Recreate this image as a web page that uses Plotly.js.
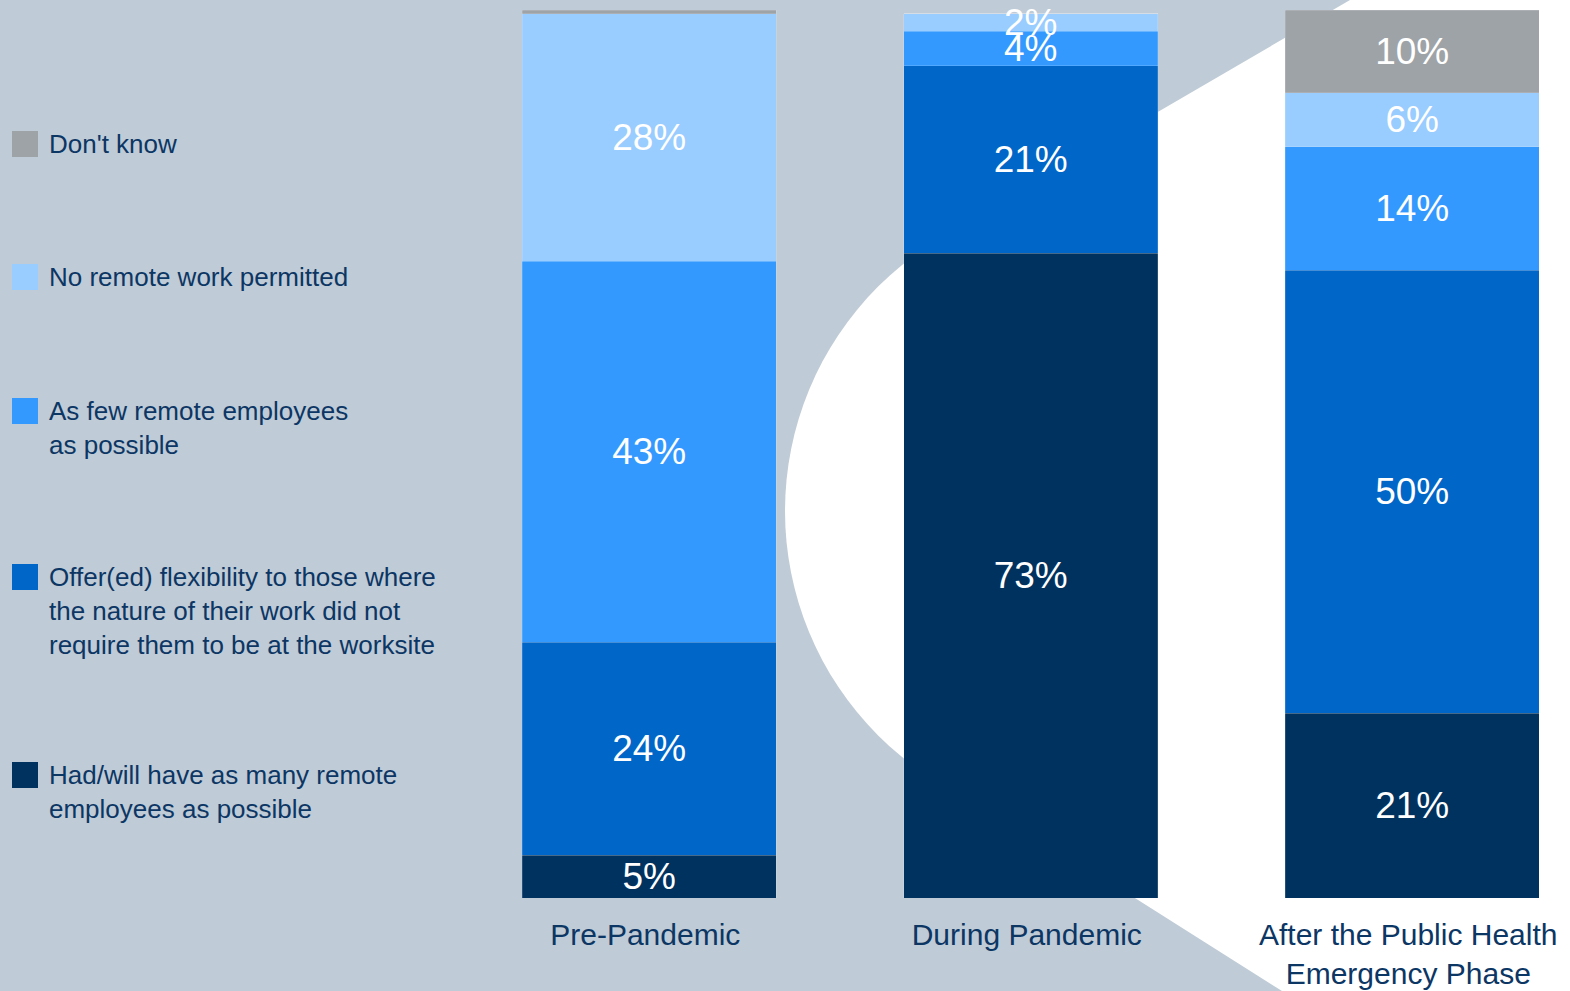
<!DOCTYPE html>
<html>
<head>
<meta charset="utf-8">
<script src="https://cdn.plot.ly/plotly-3.0.1.min.js"></script>
<style>
html,body{margin:0;padding:0;background:#bfcbd6;}
#chart{width:1570px;height:991px;}
</style>
</head>
<body>
<div id="chart"></div>
<script>
// ---- data ----
var categories = ["Pre-Pandemic", "During Pandemic", "After the Public Health<br>Emergency Phase"];
var seriesNames = [
  "Had/will have as many remote<br>employees as possible",
  "Offer(ed) flexibility to those where<br>the nature of their work did not<br>require them to be at the worksite",
  "As few remote employees<br>as possible",
  "No remote work permitted",
  "Don't know"
];
var hadWillHave   = [4.8, 72.6, 20.8];
var offeredFlex   = [24.0, 21.1, 49.9];
var asFewRemote   = [42.9, 3.9, 13.9];
var noRemote      = [27.9, 2.0, 6.1];
var dontKnow      = [0.4, 0.0, 9.3];
var hadWillLabels = ["5%", "73%", "21%"];
var offeredLabels = ["24%", "21%", "50%"];
var asFewLabels   = ["43%", "4%", "14%"];
var noRemoteLabels= ["28%", "2%", "6%"];
var dontKnowLabels= ["", "", "10%"];

var seriesValues = [hadWillHave, offeredFlex, asFewRemote, noRemote, dontKnow];
var seriesLabels = [hadWillLabels, offeredLabels, asFewLabels, noRemoteLabels, dontKnowLabels];
var seriesColors = ["#00325f", "#0066c8", "#3399ff", "#99ccff", "#9ea3a7"];

// ---- layout geometry (pixels) ----
var W = 1570, H = 991;
var unit = 381.5;
var mL = 457, mR = 0, mT = 10, mB = 93;
var pw = W - mL - mR, ph = H - mT - mB;
function px(x){ return (x - mL) / pw; }
function py(y){ return (H - mB - y) / ph; }

var navy = "#0c3664";
var fontFam = "Liberation Sans, Arial, sans-serif";

var traces = seriesValues.map(function(vals, i){
  return {
    type: "bar",
    x: categories,
    y: vals,
    name: seriesNames[i],
    text: seriesLabels[i],
    textposition: "inside",
    insidetextanchor: "middle",
    constraintext: "none",
    textangle: 0,
    textfont: {color: "#ffffff", size: 37, family: fontFam},
    marker: {color: seriesColors[i], line: {color: "rgba(255,255,255,0.25)", width: 0.6}},
    width: 0.666,
    hoverinfo: "skip",
    showlegend: false,
    cliponaxis: false
  };
});

// decorative white shape: circle plus tangent wedge opening to the right
var shapes = [
  {type: "circle", xref: "paper", yref: "paper", layer: "below",
   x0: px(785), x1: px(1419), y0: py(828), y1: py(194),
   fillcolor: "#ffffff", line: {width: 0}},
  {type: "path", xref: "paper", yref: "paper", layer: "below",
   path: "M" + px(943) + "," + py(237) +
         " L" + px(1350) + "," + py(0) +
         " L" + px(1570) + "," + py(0) +
         " L" + px(1570) + "," + py(991) +
         " L" + px(1282) + "," + py(991) +
         " L" + px(936) + "," + py(772) +
         " L" + px(1102) + "," + py(511) + " Z",
   fillcolor: "#ffffff", line: {width: 0}}
];

// custom legend (top to bottom: reverse of stack order)
var legendCenters = [775, 577, 411, 277, 144];
var lineGap = 26 * 1.3;
var annotations = [];
seriesNames.forEach(function(name, i){
  var c = legendCenters[i];
  var nLines = name.split("<br>").length;
  shapes.push({type: "rect", xref: "paper", yref: "paper",
    x0: px(12), x1: px(38), y0: py(c + 13), y1: py(c - 13),
    fillcolor: seriesColors[i], line: {width: 0}});
  annotations.push({xref: "paper", yref: "paper",
    x: px(47), y: py(c + (nLines - 1) * lineGap / 2),
    xanchor: "left", yanchor: "middle", align: "left",
    text: name, showarrow: false,
    font: {size: 26, color: navy, family: fontFam}});
});

var layout = {
  width: W, height: H,
  margin: {l: mL, r: mR, t: mT, b: mB, pad: 0},
  paper_bgcolor: "#bfcbd6",
  plot_bgcolor: "rgba(0,0,0,0)",
  barmode: "stack",
  showlegend: false,
  xaxis: {
    range: [-0.5 - 1.5 / unit, -0.5 - 1.5 / unit + pw / unit],
    showgrid: false, zeroline: false, showline: false, ticks: "",
    tickfont: {size: 30, color: navy, family: fontFam},
    ticklabelstandoff: 16,
    ticklabelshift: -4,
    fixedrange: true
  },
  yaxis: {
    range: [0, 100],
    showgrid: false, zeroline: false, showline: false,
    showticklabels: false, ticks: "", fixedrange: true
  },
  shapes: shapes,
  annotations: annotations,
  font: {family: fontFam}
};

Plotly.newPlot("chart", traces, layout, {displayModeBar: false, staticPlot: true});
</script>
</body>
</html>
